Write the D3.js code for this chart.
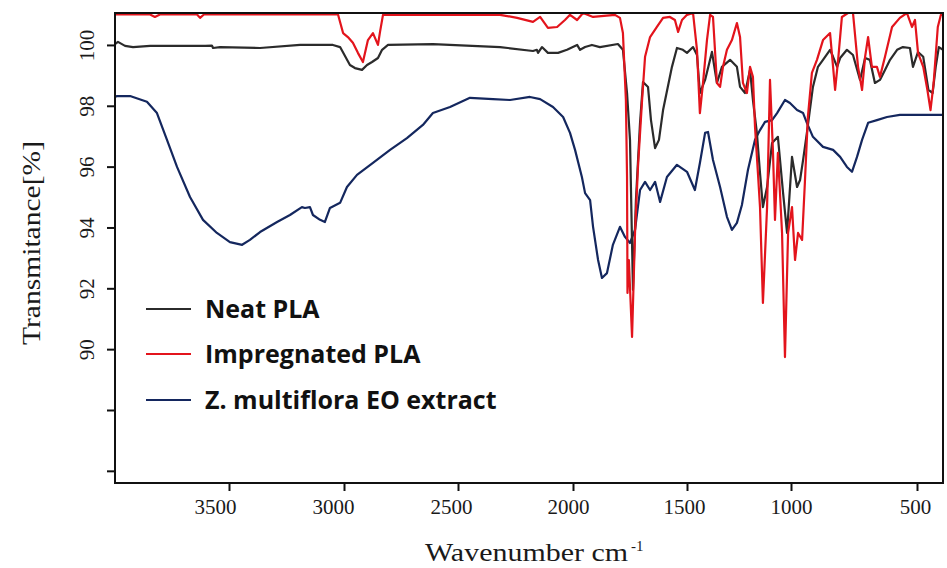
<!DOCTYPE html>
<html>
<head>
<meta charset="utf-8">
<script src="https://cdn.jsdelivr.net/npm/d3@7"></script>
<style>
  body { margin: 0; background: #fff; }
  svg { display: block; }
</style>
</head>
<body>
<svg id="chart" width="947" height="568"></svg>
<script>
// FTIR spectra: [wavenumber cm-1, transmittance %]
const neatPLA = [
  [4000,100.03],[3987,100.1],[3956,99.97],[3921,99.93],[3846,99.97],[3715,99.97],[3605,99.97],
  [3575,99.98],[3570,99.9],[3539,99.93],[3365,99.9],[3191,100.0],[3048,100.0],[3017,99.93],
  [2974,99.34],[2952,99.24],[2921,99.18],[2899,99.34],[2877,99.44],[2851,99.57],[2833,99.84],
  [2807,100.0],[2610,100.03],[2317,99.93],[2174,99.8],[2157,99.84],[2152,99.74],[2135,99.93],
  [2109,99.74],[2065,99.74],[2026,99.84],[1982,100.0],[1969,99.84],[1947,99.93],[1917,100.0],
  [1882,99.93],[1803,100.03],[1781,99.84],[1763,98.42],[1750,96.88],[1737,91.95],[1724,94.9],
  [1706,97.44],[1693,98.78],[1671,98.62],[1658,97.53],[1640,96.61],[1623,96.88],[1605,97.86],
  [1566,99.28],[1544,99.9],[1518,99.84],[1500,99.74],[1471,99.93],[1452,99.67],[1438,98.42],
  [1413,98.85],[1380,99.77],[1356,98.75],[1332,99.28],[1293,99.51],[1260,99.28],[1245,98.62],
  [1221,98.42],[1197,99.18],[1183,98.19],[1164,97.11],[1149,95.79],[1135,94.67],[1115,95.33],
  [1091,96.78],[1063,96.98],[1038,95.13],[1019,93.82],[996,96.32],[976,95.33],[964,95.56],
  [952,96.22],[937,97.11],[913,98.62],[893,99.28],[873,99.51],[845,99.84],[833,99.61],
  [817,99.28],[805,99.57],[778,99.84],[754,99.67],[726,98.85],[706,99.57],[687,99.51],
  [667,98.75],[647,98.85],[627,99.18],[607,99.51],[579,99.84],[556,99.93],[528,99.9],
  [516,99.28],[496,99.77],[476,99.61],[456,98.52],[440,98.42],[428,99.28],[416,99.93],[400,99.84]
];

const impregnatedPLA = [
  [4000,101.0],[3846,101.0],[3825,100.92],[3803,101.0],[3640,101.0],[3627,100.89],[3610,101.0],
  [3191,101.0],[3026,101.0],[3004,100.39],[2983,100.26],[2961,100.07],[2939,99.74],[2917,99.44],
  [2895,100.16],[2873,100.39],[2851,100.0],[2842,100.43],[2829,100.99],[2317,100.99],[2243,100.89],
  [2174,100.76],[2143,100.92],[2109,100.56],[2069,100.59],[2035,100.82],[2013,100.99],[1982,100.82],
  [1956,101.05],[1912,100.92],[1816,100.99],[1794,100.89],[1781,100.39],[1768,98.19],[1763,95.66],
  [1761,91.85],[1755,92.93],[1741,90.4],[1728,93.82],[1715,95.99],[1697,98.19],[1684,99.61],
  [1662,100.26],[1632,100.59],[1605,100.89],[1575,100.92],[1553,100.82],[1539,100.43],[1522,100.82],
  [1500,100.99],[1471,101.05],[1452,99.84],[1438,97.76],[1423,98.75],[1404,100.16],[1389,100.99],
  [1375,100.92],[1356,98.75],[1341,98.62],[1327,99.28],[1308,99.84],[1284,100.16],[1260,100.72],
  [1245,100.26],[1231,98.75],[1212,98.42],[1197,99.28],[1183,98.95],[1173,97.3],[1159,95.79],
  [1149,94.67],[1135,91.52],[1115,94.67],[1101,98.85],[1087,96.55],[1077,94.25],[1063,96.45],
  [1043,93.82],[1029,89.74],[1014,93.82],[996,94.67],[984,92.93],[972,93.82],[956,93.59],
  [945,95.46],[933,97.63],[917,99.08],[897,99.51],[873,100.16],[845,100.39],[833,99.28],
  [825,98.52],[813,99.51],[798,100.92],[774,101.05],[754,101.05],[734,99.28],[718,98.52],
  [706,99.61],[694,100.26],[679,99.28],[659,99.28],[647,98.95],[627,99.61],[599,100.59],
  [568,100.89],[540,101.05],[520,100.59],[508,100.82],[496,99.74],[476,99.28],[460,98.52],
  [448,97.86],[436,98.75],[420,100.59],[408,100.99],[400,100.99]
];

const zMultifloraEO = [
  [4000,98.29],[3991,98.32],[3934,98.32],[3860,98.13],[3816,97.76],[3772,96.88],[3728,95.99],
  [3671,95.0],[3614,94.25],[3553,93.82],[3496,93.52],[3443,93.43],[3409,93.59],[3365,93.85],
  [3291,94.18],[3235,94.41],[3183,94.67],[3170,94.64],[3148,94.67],[3135,94.41],[3104,94.25],
  [3083,94.18],[3061,94.64],[3017,94.81],[2987,95.33],[2943,95.73],[2873,96.12],[2798,96.55],
  [2724,96.94],[2654,97.37],[2610,97.76],[2535,97.96],[2448,98.26],[2348,98.22],[2274,98.19],
  [2187,98.29],[2143,98.22],[2087,97.96],[2043,97.63],[2013,97.11],[1991,96.55],[1961,95.66],
  [1947,95.13],[1925,94.9],[1912,94.02],[1890,92.93],[1873,92.34],[1851,92.5],[1825,93.43],
  [1794,94.02],[1772,93.69],[1750,93.49],[1728,93.92],[1706,95.23],[1684,95.5],[1662,95.23],
  [1640,95.5],[1618,94.84],[1588,95.66],[1544,96.06],[1500,95.83],[1462,95.23],[1438,96.12],
  [1413,97.11],[1399,97.14],[1375,96.22],[1341,95.33],[1308,94.35],[1284,93.92],[1260,94.15],
  [1236,94.74],[1207,95.89],[1173,96.88],[1149,97.2],[1125,97.47],[1091,97.53],[1067,97.76],
  [1029,98.19],[1005,98.09],[976,97.86],[952,97.76],[937,97.44],[913,96.98],[873,96.65],
  [833,96.55],[805,96.32],[778,95.99],[758,95.83],[738,96.32],[718,96.88],[694,97.44],
  [659,97.53],[619,97.63],[568,97.7],[500,97.7],[400,97.7]
];

const seriesNames = ["Neat PLA", "Impregnated PLA", "Z. multiflora EO extract"];
const seriesColors = ["#2b2b2b", "#e3141c", "#14275e"];
const xTickValues = [3500, 3000, 2500, 2000, 1500, 1000, 500];
const yTickValues = [86, 88, 90, 92, 94, 96, 98, 100];
const yTickLabels = [90, 92, 94, 96, 98, 100];

const svg = d3.select("#chart");
const plotLeft = 115, plotRight = 943, plotTop = 13, plotBottom = 483;

// wavenumber axis (instrument axis is not evenly spaced below 1500)
const x = d3.scaleLinear()
  .domain([4000, 3500, 3000, 2500, 2000, 1500, 1000, 500, 400])
  .range([plotLeft, 229, 344, 458, 573, 687, 791, 917, plotRight]);

const y = d3.scaleLinear()
  .domain([85.6, 101.05])
  .range([plotBottom, plotTop]);

svg.append("defs").append("clipPath").attr("id", "plotClip")
  .append("rect")
    .attr("x", plotLeft).attr("y", plotTop)
    .attr("width", plotRight - plotLeft).attr("height", plotBottom - plotTop);

// ── axes ───────────────────────────────────────────────────────────────
const serif = "'Liberation Serif', 'Times New Roman', serif";

// tick numbers sit a little left of their marks, more so on the left side
const xLabelShift = [-14, -11, -7, -5, -3, 0, -2];

const xAxis = svg.append("g")
  .attr("transform", `translate(0,${plotBottom})`)
  .call(d3.axisBottom(x).tickValues(xTickValues).tickSize(8).tickPadding(8).tickFormat(d3.format("d")));
xAxis.select(".domain").remove();
xAxis.selectAll("line").attr("stroke", "#111").attr("stroke-width", 2);
xAxis.selectAll("text")
  .attr("dx", (d, i) => xLabelShift[i])
  .style("font-family", serif).style("font-size", "21px").attr("fill", "#1a1a1a");

const yAxis = svg.append("g")
  .attr("transform", `translate(${plotLeft},0)`)
  .call(d3.axisLeft(y).tickValues(yTickValues).tickSize(8)
    .tickFormat(d => yTickLabels.includes(d) ? d : ""));
yAxis.select(".domain").remove();
yAxis.selectAll("line").attr("stroke", "#111").attr("stroke-width", 2);
yAxis.selectAll("text")
  .attr("x", 0).attr("dy", "0.35em")
  .attr("transform", "translate(-28,0) rotate(-90)")
  .attr("text-anchor", "middle")
  .style("font-family", serif).style("font-size", "21px").attr("fill", "#1a1a1a");

// ── spectra ────────────────────────────────────────────────────────────
const line = d3.line()
  .x(d => x(d[0]))
  .y(d => y(d[1]))
  .curve(d3.curveLinear);

const plot = svg.append("g").attr("clip-path", "url(#plotClip)");
[zMultifloraEO, neatPLA, impregnatedPLA].forEach((data, i) => {
  const idx = [2, 0, 1][i];
  plot.append("path")
    .datum(data)
    .attr("fill", "none")
    .attr("stroke", seriesColors[idx])
    .attr("stroke-width", 2.2)
    .attr("stroke-linejoin", "round")
    .attr("d", line);
});

// plot frame
svg.append("rect")
  .attr("x", plotLeft).attr("y", plotTop)
  .attr("width", plotRight - plotLeft).attr("height", plotBottom - plotTop)
  .attr("fill", "none")
  .attr("stroke", "#111")
  .attr("stroke-width", 2);

// ── legend ─────────────────────────────────────────────────────────────
const legend = svg.append("g");
const legendY = [309, 354, 400];
seriesNames.forEach((name, i) => {
  legend.append("line")
    .attr("x1", 146).attr("x2", 191)
    .attr("y1", legendY[i]).attr("y2", legendY[i])
    .attr("stroke", seriesColors[i]).attr("stroke-width", 2);
  legend.append("text")
    .attr("x", 205).attr("y", legendY[i])
    .attr("dy", "0.35em")
    .style("font-family", "'Open Sans', sans-serif")
    .style("font-weight", "bold")
    .style("font-size", "25px")
    .attr("fill", "#111")
    .text(name);
});

// ── axis titles (wide serif lettering) ────────────────────────────────
svg.append("text")
  .attr("transform", "translate(31,243) rotate(-90)")
  .attr("text-anchor", "middle")
  .attr("dy", "0.35em")
  .attr("textLength", 204)
  .attr("lengthAdjust", "spacingAndGlyphs")
  .style("font-family", serif).style("font-size", "25px").attr("fill", "#1a1a1a")
  .text("Transmitance[%]");

const xTitle = svg.append("text")
  .attr("x", 425).attr("y", 561)
  .style("font-family", serif).style("font-size", "25px").attr("fill", "#1a1a1a");
xTitle.append("tspan")
  .attr("textLength", 203)
  .attr("lengthAdjust", "spacingAndGlyphs")
  .text("Wavenumber cm");
xTitle.append("tspan").attr("dx", "3").attr("dy", "-10").style("font-size", "15px").text("-1");
</script>
</body>
</html>
